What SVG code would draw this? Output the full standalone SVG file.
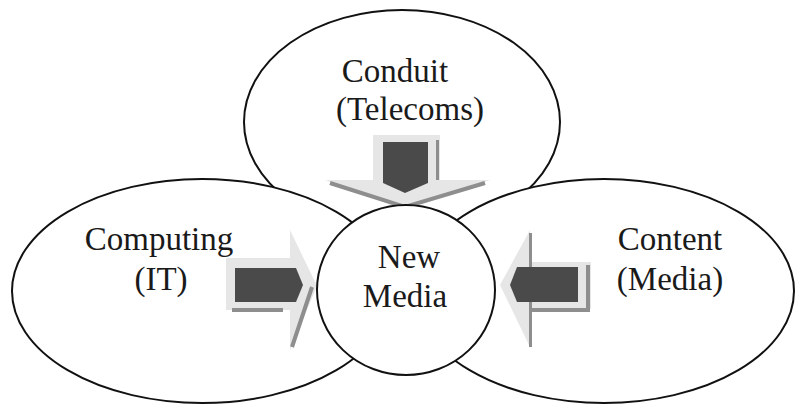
<svg xmlns="http://www.w3.org/2000/svg" width="797" height="405" viewBox="0 0 797 405">
  <style>
    .ell { fill: #ffffff; stroke: #111111; stroke-width: 2; }
    .lbl { font-family: "Liberation Serif", "Times New Roman", serif; font-size: 33px; fill: #1a1a1a; text-anchor: middle; }
    .light { fill: #e6e6e6; }
    .mid { fill: none; stroke: #8e8e8e; stroke-width: 4; }
    .dark { fill: #4a4a4a; }
  </style>
  <rect x="0" y="0" width="797" height="405" fill="#ffffff"/>

  <g id="node-conduit">
    <ellipse class="ell" cx="402" cy="122" rx="158" ry="112"/>
    <text class="lbl" x="395" y="82">Conduit</text>
    <text class="lbl" x="410" y="120">(Telecoms)</text>
  </g>

  <g id="node-computing">
    <ellipse class="ell" cx="202" cy="291" rx="190" ry="112"/>
    <text class="lbl" x="159" y="250">Computing</text>
    <text class="lbl" x="161" y="290">(IT)</text>
  </g>

  <g id="node-content">
    <ellipse class="ell" cx="604" cy="291" rx="190" ry="112"/>
    <text class="lbl" x="670" y="250">Content</text>
    <text class="lbl" x="670" y="290">(Media)</text>
  </g>

  <g id="connectors">
    <g id="arrow-top">
      <polygon class="light" points="373,135 440,135 440,180 490,180 405,210 325,180 373,180"/>
      <line x1="437.5" y1="140" x2="437.5" y2="180" stroke="#8e8e8e" stroke-width="3"/>
      <polyline class="mid" points="330,183 405,207 485,183"/>
      <polygon class="dark" points="383,142 428,142 428,183 405,193 383,183"/>
    </g>
    <g id="arrow-left">
      <polygon class="light" points="226,258 290,258 290,230 317,286 290,350 290,310 226,310"/>
      <line x1="232" y1="310" x2="283" y2="310" stroke="#8e8e8e" stroke-width="4"/>
      <polyline class="mid" points="312,287 292,347"/>
      <polygon class="dark" points="235,268 296,268 303,285 296,302 235,302"/>
    </g>
    <g id="arrow-right">
      <polygon class="light" points="591,262 530,262 530,230 500,285 530,347 530,309 591,309"/>
      <line x1="530.5" y1="233" x2="530.5" y2="347" stroke="#8e8e8e" stroke-width="3"/>
      <polyline class="mid" points="588,265 588,310 532,310"/>
      <polygon class="dark" points="578,267 517,267 510,285 517,302 578,302"/>
    </g>
  </g>

  <g id="node-newmedia">
    <ellipse class="ell" cx="406" cy="290" rx="89" ry="85"/>
    <text class="lbl" x="409" y="268">New</text>
    <text class="lbl" x="405" y="307">Media</text>
  </g>
</svg>
